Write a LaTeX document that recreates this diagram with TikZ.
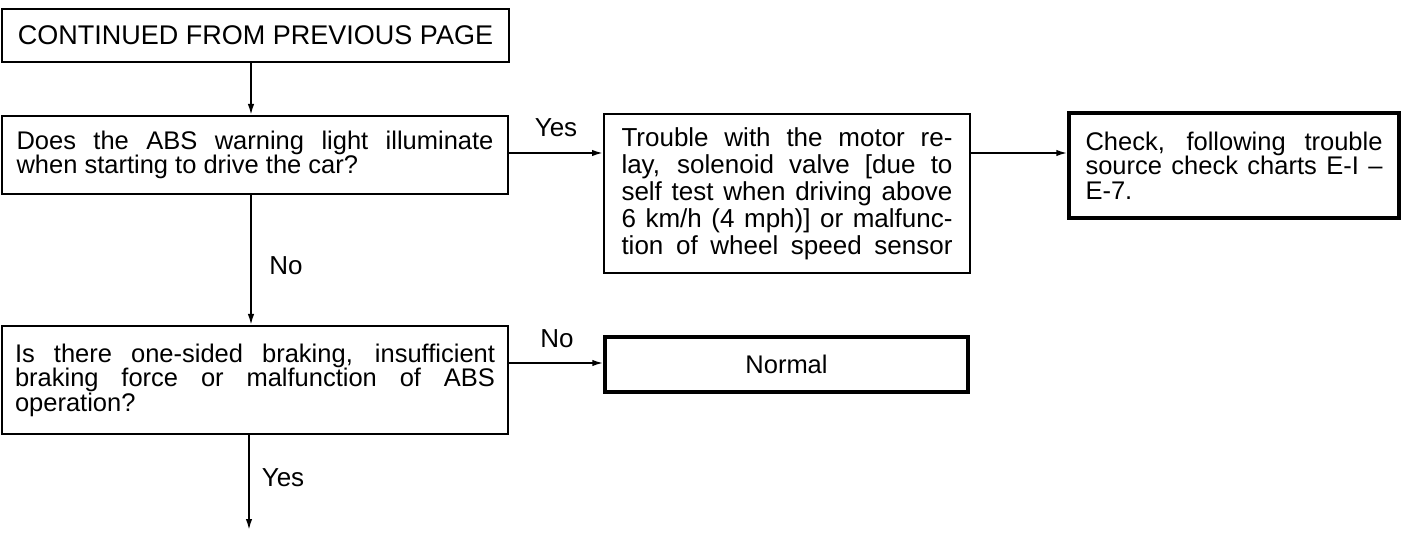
\documentclass[tikz,border=0pt]{standalone}
\usepackage{fontspec}
\setmainfont{Liberation Sans}
\usetikzlibrary{arrows.meta}
\begin{document}
\begin{tikzpicture}[x=1pt,y=-1pt,
  box/.style={draw, line width=2pt, inner sep=0pt, font=\fontsize{25.5}{24.5}\selectfont,
    execute at begin node={\tolerance=10000\hbadness=10000\hyphenpenalty=10000\exhyphenpenalty=10000}},
  thickbox/.style={box, line width=3.5pt},
  arr/.style={line width=1.8pt, -{Latex[length=11pt,width=6.5pt]}},
  lbl/.style={font=\fontsize{26}{26}\selectfont, inner sep=0pt}]
\useasboundingbox (0,0) rectangle (1402,534);

\node[box, minimum width=507pt, minimum height=53pt, font=\fontsize{27}{27}\selectfont] (b1) at (255.5,35.5) {CONTINUED FROM PREVIOUS PAGE};

\node[box, minimum width=506pt, minimum height=78pt, text width=477pt, align=justify] (b2) at (255,155)
  {Does the ABS warning light illuminate\linebreak when starting to drive the car?};

\node[box, minimum width=366pt, minimum height=159pt, text width=331pt, align=justify, font=\fontsize{26}{27}\selectfont] (b3) at (787,193.5)
  {Trouble with the motor re-\linebreak lay, solenoid valve [due to\linebreak self test when driving above\linebreak 6 km/h (4 mph)] or malfunc-\linebreak tion of wheel speed sensor\parfillskip=0pt\par};

\node[thickbox, minimum width=330pt, minimum height=105pt, text width=297pt, align=justify] (b4) at (1234,165.5)
  {Check, following trouble\linebreak source check charts E-I --\linebreak E-7.};

\node[box, minimum width=506pt, minimum height=108pt, text width=480pt, align=justify] (b5) at (255,380)
  {Is there one-sided braking, insufficient\linebreak braking force or malfunction of ABS\linebreak operation?};

\node[thickbox, minimum width=363pt, minimum height=55pt] (n) at (786.5,364.5) {Normal};

\node[lbl] (yes1) at (556,128) {Yes};
\node[lbl] (no1) at (286,266) {No};
\node[lbl] (no2) at (557,339) {No};
\node[lbl] (yes2) at (283,478) {Yes};

\coordinate (cx) at (251,0);
\coordinate (ya) at (0,153);
\coordinate (yb) at (0,363);
\coordinate (end) at (249,530);

\draw[arr] (b1.south -| cx) -- (b2.north -| cx);
\draw[arr] (b2.east |- ya) -- (b3.west |- ya);
\draw[arr] (b3.east |- ya) -- (b4.west |- ya);
\draw[arr] (b2.south -| cx) -- (b5.north -| cx);
\draw[arr] (b5.east |- yb) -- (n.west |- yb);
\draw[arr] (b5.south -| end) -- (end);
\end{tikzpicture}
\end{document}
